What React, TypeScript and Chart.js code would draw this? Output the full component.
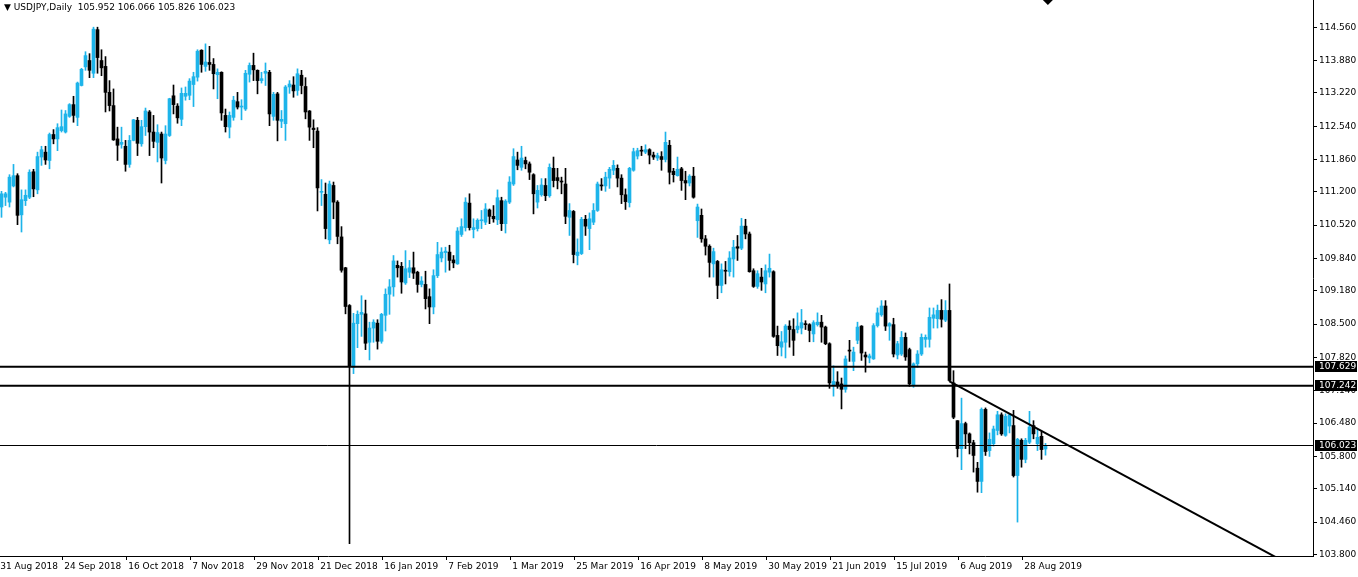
import React, { useEffect, useRef } from "react";
import { Chart, registerables } from "chart.js";

Chart.register(...registerables);

const symbolName = "USDJPY";
const timeframeName = "Daily";

const dateLabels = [
  "31 Aug 2018", "24 Sep 2018", "16 Oct 2018", "7 Nov 2018", "29 Nov 2018", "21 Dec 2018",
  "16 Jan 2019", "7 Feb 2019", "1 Mar 2019", "25 Mar 2019", "16 Apr 2019", "8 May 2019",
  "30 May 2019", "21 Jun 2019", "15 Jul 2019", "6 Aug 2019", "28 Aug 2019",
];
const barsPerDateLabel = 16;

const opens = [
  110.89, 111.09, 110.99, 111.32, 111.53, 110.73, 111.02, 111.09, 111.61, 111.24,
  111.91, 112.01, 111.84, 112.37, 112.28, 112.45, 112.42, 112.74, 112.98, 112.72,
  113.37, 113.75, 113.88, 113.62, 114.51, 113.88, 113.76, 113.23, 112.96, 112.28,
  112.17, 112.13, 111.76, 112.25, 112.66, 112.18, 112.53, 112.83, 112.42, 112.21,
  112.38, 111.84, 112.35, 113.16, 112.95, 112.68, 113.15, 113.17, 113.39, 113.54,
  114.09, 113.76, 113.84, 113.80, 113.59, 113.64, 112.76, 112.52, 112.72, 113.04,
  112.93, 112.89, 113.60, 113.78, 113.68, 113.47, 113.62, 113.64, 112.74, 113.20,
  112.64, 112.59, 113.34, 113.38, 113.27, 113.58, 113.35, 112.85, 112.50, 112.44,
  111.19, 111.15, 110.22, 111.33, 110.99, 110.28, 109.65, 108.88, 107.62, 108.51,
  108.70, 108.71, 108.13, 108.42, 108.52, 108.15, 108.68, 109.11, 109.26, 109.70,
  109.68, 109.34, 109.56, 109.65, 109.56, 109.31, 109.31, 109.06, 108.85, 109.49,
  109.85, 109.96, 109.97, 109.81, 109.73, 110.33, 110.47, 110.97, 110.43, 110.45,
  110.61, 110.58, 110.83, 110.70, 110.63, 111.02, 110.55, 110.99, 111.36, 111.85,
  111.70, 111.84, 111.77, 111.55, 110.99, 111.14, 111.33, 111.12, 111.68, 111.49,
  111.41, 111.36, 110.68, 110.80, 109.90, 109.94, 110.64, 110.45, 110.58, 110.82,
  111.34, 111.32, 111.48, 111.64, 111.68, 111.48, 111.14, 110.98, 111.64, 111.93,
  112.04, 112.01, 112.06, 111.95, 111.89, 111.92, 111.86, 112.15, 111.62, 111.53,
  111.67, 111.43, 111.38, 111.52, 110.61, 110.72, 110.24, 110.09, 109.73, 109.78,
  109.29, 109.60, 109.57, 109.83, 110.08, 110.05, 110.50, 110.34, 109.59, 109.27,
  109.46, 109.32, 109.56, 109.57, 108.27, 108.03, 108.13, 108.46, 108.39, 108.39,
  108.42, 108.51, 108.49, 108.30, 108.49, 108.54, 108.44, 108.10, 107.25, 107.32,
  107.28, 107.17, 107.96, 107.74, 108.17, 108.46, 107.87, 107.81, 107.79, 108.47,
  108.69, 108.87, 108.46, 108.49, 107.87, 107.89, 108.23, 107.98, 107.26, 107.69,
  107.89, 108.19, 108.19, 108.62, 108.61, 108.78, 108.58, 108.78, 107.30, 106.53,
  105.96, 106.47, 106.26, 106.08, 105.56, 105.29, 106.76, 105.92, 106.06, 106.33,
  106.65, 106.23, 106.42, 106.43, 105.41, 106.13, 105.74, 106.09, 106.43, 106.06,
  106.21, 105.952,
];

const highs = [
  111.21, 111.19, 111.55, 111.76, 111.57, 111.24, 111.24, 111.65, 111.66, 112.01,
  112.13, 112.13, 112.40, 112.47, 112.59, 112.87, 112.86, 113.00, 113.15, 113.44,
  113.72, 114.06, 114.02, 114.56, 114.56, 114.10, 113.96, 113.47, 113.30, 112.52,
  112.52, 112.25, 112.35, 112.68, 112.72, 112.66, 112.91, 112.86, 112.76, 112.57,
  112.42, 112.55, 113.11, 113.38, 113.00, 113.32, 113.34, 113.51, 113.64, 114.10,
  114.10, 114.22, 114.17, 113.92, 113.71, 113.65, 112.89, 112.83, 113.15, 113.23,
  113.08, 113.68, 113.83, 114.03, 113.69, 113.64, 113.83, 113.68, 113.23, 113.23,
  112.86, 113.37, 113.47, 113.55, 113.71, 113.68, 113.53, 112.86, 112.67, 112.51,
  111.45, 111.38, 111.42, 111.40, 111.02, 110.49, 109.66, 108.90, 108.72, 108.77,
  109.08, 108.99, 108.54, 108.59, 108.59, 108.72, 109.22, 109.41, 109.90, 109.79,
  109.76, 110.00, 109.80, 109.97, 109.58, 109.47, 109.58, 109.22, 109.61, 110.17,
  110.06, 110.07, 110.11, 109.90, 110.47, 110.65, 111.08, 111.16, 110.65, 110.65,
  110.82, 110.96, 110.85, 110.92, 111.24, 111.09, 111.04, 111.51, 112.08, 112.01,
  112.13, 111.91, 111.81, 111.57, 111.33, 111.47, 111.47, 111.77, 111.91, 111.68,
  111.50, 111.68, 110.96, 110.82, 110.24, 110.68, 110.72, 110.77, 110.96, 111.40,
  111.47, 111.60, 111.70, 111.84, 111.75, 111.55, 111.26, 111.70, 112.09, 112.09,
  112.13, 112.16, 112.08, 112.01, 111.99, 112.02, 112.42, 112.25, 111.68, 111.91,
  111.70, 111.62, 111.55, 111.70, 110.95, 110.85, 110.31, 110.12, 110.05, 109.80,
  109.73, 109.78, 109.98, 110.21, 110.31, 110.66, 110.64, 110.38, 109.63, 109.59,
  109.64, 109.71, 109.93, 109.59, 108.46, 108.35, 108.49, 108.57, 108.61, 108.73,
  108.80, 108.57, 108.51, 108.57, 108.73, 108.68, 108.46, 108.12, 107.65, 107.53,
  107.40, 107.85, 108.17, 108.03, 108.54, 108.47, 107.93, 107.89, 108.51, 108.83,
  108.98, 108.98, 108.53, 108.62, 108.15, 108.35, 108.32, 108.01, 107.71, 107.96,
  108.30, 108.28, 108.83, 108.83, 108.89, 109.00, 108.98, 109.32, 107.55, 106.53,
  106.99, 106.50, 106.28, 106.13, 105.68, 106.79, 106.79, 106.28, 106.42, 106.72,
  106.69, 106.67, 106.67, 106.74, 106.17, 106.16, 106.17, 106.72, 106.53, 106.35,
  106.31, 106.066,
];

const lows = [
  110.68, 110.92, 110.89, 111.30, 110.53, 110.38, 110.92, 111.06, 111.10, 111.16,
  111.74, 111.76, 111.67, 112.18, 112.04, 112.42, 112.40, 112.72, 112.62, 112.55,
  113.36, 113.68, 113.53, 113.53, 113.62, 113.57, 112.83, 112.85, 112.25, 111.84,
  112.09, 111.62, 111.70, 112.24, 111.94, 112.13, 112.35, 111.94, 112.10, 111.81,
  111.38, 111.77, 112.33, 112.79, 112.60, 112.55, 113.07, 113.08, 112.94, 113.46,
  113.64, 113.66, 113.68, 113.30, 113.10, 112.66, 112.42, 112.30, 112.66, 112.89,
  112.67, 112.86, 113.44, 113.47, 113.20, 113.42, 113.37, 112.55, 112.66, 112.24,
  112.51, 112.25, 113.21, 113.13, 113.17, 113.20, 112.69, 112.25, 112.10, 110.81,
  110.92, 110.24, 110.14, 110.65, 110.14, 109.56, 108.71, 104.02, 107.49, 108.02,
  108.25, 107.98, 107.77, 108.13, 107.99, 108.11, 108.36, 108.70, 109.07, 109.46,
  109.13, 109.31, 109.45, 109.43, 109.15, 109.26, 108.81, 108.51, 108.71, 109.45,
  109.77, 109.56, 109.60, 109.65, 109.72, 110.29, 110.40, 110.42, 110.26, 110.40,
  110.45, 110.53, 110.55, 110.58, 110.53, 110.41, 110.36, 110.96, 111.33, 111.65,
  111.64, 111.67, 111.45, 110.75, 110.87, 111.11, 111.02, 111.09, 111.30, 111.26,
  111.16, 110.55, 110.31, 109.75, 109.71, 109.92, 110.31, 110.02, 110.53, 110.80,
  111.23, 111.21, 111.27, 111.55, 111.30, 110.96, 110.84, 110.89, 111.62, 111.87,
  111.94, 111.98, 111.77, 111.86, 111.84, 111.64, 111.81, 111.36, 111.40, 111.52,
  111.23, 111.04, 111.32, 111.07, 110.27, 110.17, 109.91, 109.46, 109.46, 109.02,
  109.14, 109.32, 109.48, 109.46, 109.80, 110.02, 110.24, 109.56, 109.25, 109.23,
  109.19, 109.14, 109.46, 108.23, 107.86, 107.85, 107.81, 108.03, 107.86, 108.32,
  108.30, 108.39, 108.14, 108.14, 108.46, 108.13, 108.08, 107.19, 107.03, 107.19,
  106.77, 107.11, 107.74, 107.55, 108.10, 107.76, 107.52, 107.71, 107.78, 108.44,
  108.66, 108.37, 108.17, 107.83, 107.79, 107.86, 107.76, 107.23, 107.21, 107.62,
  107.86, 108.03, 108.03, 108.42, 108.42, 108.44, 108.55, 107.33, 106.57, 105.79,
  105.53, 105.96, 105.85, 105.48, 105.07, 105.06, 105.82, 105.80, 106.01, 106.24,
  106.23, 106.21, 106.28, 105.38, 104.46, 105.58, 105.67, 106.06, 106.16, 105.92,
  105.74, 105.826,
];

const closes = [
  111.16, 111.16, 111.50, 111.53, 110.72, 111.04, 111.13, 111.60, 111.26, 111.92,
  112.06, 111.85, 112.37, 112.28, 112.51, 112.53, 112.79, 112.98, 112.76, 113.42,
  113.70, 113.98, 113.68, 114.52, 113.94, 113.73, 113.23, 112.96, 112.26, 112.15,
  112.21, 111.76, 112.25, 112.67, 112.19, 112.53, 112.85, 112.42, 112.23, 112.41,
  111.89, 112.38, 113.10, 112.98, 112.71, 113.21, 113.21, 113.46, 113.55, 114.07,
  113.80, 113.85, 113.80, 113.61, 113.64, 112.81, 112.53, 112.76, 113.07, 112.93,
  112.95, 113.62, 113.78, 113.69, 113.47, 113.51, 113.66, 112.79, 113.19, 112.66,
  112.68, 113.34, 113.40, 113.26, 113.61, 113.37, 112.83, 112.52, 112.47, 111.28,
  111.21, 110.45, 111.36, 110.99, 110.29, 109.60, 108.86, 107.64, 108.52, 108.70,
  108.74, 108.11, 108.42, 108.54, 108.15, 108.70, 109.11, 109.26, 109.79, 109.65,
  109.36, 109.63, 109.65, 109.54, 109.31, 109.38, 109.02, 108.85, 109.49, 109.92,
  109.97, 109.99, 109.80, 109.75, 110.40, 110.49, 110.99, 110.47, 110.47, 110.62,
  110.63, 110.85, 110.70, 110.65, 111.08, 110.55, 111.01, 111.40, 111.92, 111.74,
  111.89, 111.77, 111.60, 111.16, 111.23, 111.34, 111.12, 111.70, 111.43, 111.43,
  111.40, 110.70, 110.82, 109.92, 109.97, 110.64, 110.50, 110.65, 110.82, 111.36,
  111.32, 111.50, 111.66, 111.74, 111.48, 111.14, 111.00, 111.68, 112.02, 112.04,
  112.03, 112.06, 111.95, 111.91, 111.94, 111.86, 112.21, 111.60, 111.55, 111.66,
  111.43, 111.38, 111.52, 111.09, 110.89, 110.24, 110.09, 109.76, 109.98, 109.29,
  109.61, 109.58, 109.85, 110.07, 110.05, 110.50, 110.34, 109.57, 109.27, 109.53,
  109.36, 109.59, 109.64, 108.25, 108.06, 108.14, 108.46, 108.39, 108.17, 108.46,
  108.53, 108.49, 108.37, 108.53, 108.54, 108.44, 108.10, 107.30, 107.33, 107.25,
  107.17, 107.79, 107.95, 107.93, 108.44, 107.91, 107.83, 107.85, 108.47, 108.73,
  108.87, 108.46, 108.51, 107.89, 108.10, 108.23, 107.83, 107.28, 107.69, 107.89,
  108.23, 108.23, 108.64, 108.69, 108.78, 108.60, 108.78, 107.35, 106.60, 105.96,
  106.47, 106.26, 106.08, 105.82, 105.29, 106.76, 105.90, 106.15, 106.36, 106.65,
  106.26, 106.62, 106.65, 105.41, 106.15, 105.74, 106.13, 106.40, 106.26, 106.19,
  105.94, 106.023,
];

const priceTicks = [
  114.56, 113.88, 113.22, 112.54, 111.86, 111.2, 110.52, 109.84, 109.18,
  108.5, 107.82, 107.14, 106.48, 105.8, 105.14, 104.46, 103.8,
];
const priceMin = 103.768;
const priceMax = 115.115;
const barMin = -0.375;
const barMax = 327.875;

const levelLines = [107.629, 107.242];
const bidPrice = 106.023;
const trendBars = [237, 328];
const trendPrices = [107.33, 103.33];
const shiftMarkerBar = 261.6;

const BULL = "#1db4ea";
const BEAR = "#000000";
const FONT = "'DejaVu Sans', sans-serif";

function hLine(price: number, width: number) {
  return {
    type: "line",
    data: [
      { x: barMin - 1, y: price },
      { x: barMax + 1, y: price },
    ],
    borderColor: "#000",
    borderWidth: width,
    pointRadius: 0,
    clip: 0,
    order: 0,
  } as any;
}

export default function App() {
  const ref = useRef<HTMLCanvasElement>(null);

  useEffect(() => {
    const canvas = ref.current;
    if (!canvas) return;
    const idx = opens.map((_, j) => j);
    const colors = idx.map((j) => (closes[j] >= opens[j] ? BULL : BEAR));
    const last = opens.length - 1;

    const overlay = {
      id: "mtOverlay",
      afterDraw(chart: any) {
        const { ctx, chartArea, scales } = chart;
        const ys = scales.y;
        ctx.save();
        ctx.font = `9px ${FONT}`;
        ctx.textBaseline = "middle";
        ctx.textAlign = "left";
        [...levelLines, bidPrice].forEach((p) => {
          const py = Math.round(ys.getPixelForValue(p) - 0.5);
          ctx.fillStyle = "#000";
          ctx.fillRect(chartArea.right + 2, py - 5, 42, 11);
          ctx.fillStyle = "#fff";
          ctx.fillText(p.toFixed(3), chartArea.right + 6, py + 0.5);
        });
        ctx.fillStyle = "#000";
        const title = `\u25BC ${symbolName},${timeframeName}  ${opens[last].toFixed(3)} ${highs[last].toFixed(3)} ${lows[last].toFixed(3)} ${closes[last].toFixed(3)}`;
        ctx.fillText(title, 4, 8);
        ctx.restore();
      },
    };

    const chart = new Chart(canvas, {
      type: "bar",
      data: {
        datasets: [
          hLine(levelLines[0], 2),
          hLine(levelLines[1], 2),
          hLine(bidPrice, 1),
          {
            type: "line",
            data: [
              { x: trendBars[0], y: trendPrices[0] },
              { x: trendBars[1], y: trendPrices[1] },
            ],
            borderColor: "#000",
            borderWidth: 2,
            pointRadius: 0,
            clip: 0,
            order: 0,
          } as any,
          {
            type: "line",
            data: [{ x: shiftMarkerBar, y: priceMax }],
            showLine: false,
            pointStyle: "rectRot",
            pointRadius: 5,
            pointBackgroundColor: "#000",
            pointBorderColor: "#000",
            pointBorderWidth: 0,
            order: 0,
          } as any,
          {
            type: "bar",
            data: idx.map((j) => ({ x: j, y: [opens[j], closes[j]] })),
            backgroundColor: colors,
            borderWidth: 0,
            grouped: false,
            categoryPercentage: 1,
            barPercentage: 1,
            maxBarThickness: 3,
            minBarLength: 1,
            order: 1,
          } as any,
          {
            type: "bar",
            data: idx.map((j) => ({ x: j, y: [lows[j], highs[j]] })),
            backgroundColor: colors,
            borderWidth: 0,
            grouped: false,
            categoryPercentage: 1,
            barPercentage: 1,
            maxBarThickness: 1,
            order: 2,
          } as any,
        ],
      },
      options: {
        animation: false,
        responsive: false,
        maintainAspectRatio: false,
        devicePixelRatio: 1,
        events: [],
        layout: { padding: 0, autoPadding: false },
        plugins: {
          legend: { display: false },
          tooltip: { enabled: false },
        },
        scales: {
          x: {
            type: "linear",
            position: "bottom",
            min: barMin,
            max: barMax,
            bounds: "data",
            offset: false,
            grid: {
              display: true,
              offset: false,
              drawOnChartArea: false,
              drawTicks: true,
              tickLength: 4,
              color: "#000",
            },
            border: { display: true, color: "#000", width: 1 },
            ticks: {
              autoSkip: false,
              maxRotation: 0,
              minRotation: 0,
              align: "start",
              padding: 1,
              color: "#000",
              font: { family: FONT, size: 9 },
              callback: (_v: any, i: number) => "\u2009" + dateLabels[i],
            },
            afterBuildTicks: (axis: any) => {
              axis.ticks = dateLabels.map((_, k) => ({ value: k * barsPerDateLabel - 0.75 }));
            },
            afterFit: (axis: any) => {
              axis.height = 21;
              axis.paddingLeft = 0;
              axis.paddingRight = 0;
              axis.paddingTop = 0;
              axis.paddingBottom = 0;
            },
          },
          y: {
            type: "linear",
            position: "right",
            min: priceMin,
            max: priceMax,
            bounds: "data",
            grid: {
              drawOnChartArea: false,
              drawTicks: true,
              tickLength: 4,
              color: "#000",
            },
            border: { display: true, color: "#000", width: 1 },
            ticks: {
              autoSkip: false,
              padding: 2,
              color: "#000",
              font: { family: FONT, size: 9 },
              callback: (v: any) => Number(v).toFixed(3),
            },
            afterBuildTicks: (axis: any) => {
              axis.ticks = priceTicks
                .slice()
                .sort((a, b) => a - b)
                .map((v) => ({ value: v }));
            },
            afterFit: (axis: any) => {
              axis.width = 45;
              axis.paddingLeft = 0;
              axis.paddingRight = 0;
              axis.paddingTop = 0;
              axis.paddingBottom = 0;
            },
          },
        },
      } as any,
      plugins: [overlay],
    });

    return () => chart.destroy();
  }, []);

  return (
    <div
      style={{
        position: "fixed",
        left: 0,
        top: 0,
        width: 1358,
        height: 577,
        background: "#fff",
      }}
    >
      <canvas
        ref={ref}
        width={1358}
        height={577}
        style={{ display: "block", width: 1358, height: 577 }}
      />
    </div>
  );
}
